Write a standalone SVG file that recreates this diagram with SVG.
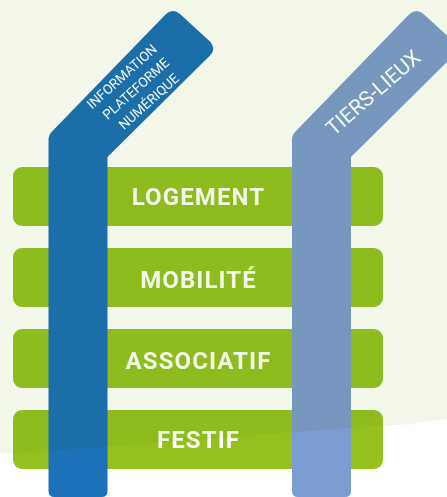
<svg xmlns="http://www.w3.org/2000/svg" width="447" height="497" viewBox="0 0 447 497">
<style>
.bar{fill:#95c11f}
.lab{font:700 24px Roboto,"Liberation Sans",sans-serif;fill:#fff;text-anchor:middle;letter-spacing:1.100px}
.small{font:400 13.500px Roboto,"Liberation Sans",sans-serif;fill:#fff;text-anchor:middle}
.big{font:400 21px Roboto,"Liberation Sans",sans-serif;fill:#fff;text-anchor:middle}
</style>
<defs>
<path id="arm" d="M48.500 140Q48.500 135 52 131.500L166 14Q173 8 180 14L210.500 42Q216 49 210.500 55L107.500 157V491Q107.500 497 101.500 497H54.500Q48.500 497 48.500 491Z"/>
</defs>
<rect width="447" height="497" fill="#fff"/>
<g id="node-logement"><rect class="bar" x="13" y="167" width="370" height="59" rx="9"/><text class="lab" x="198.500" y="205">LOGEMENT</text></g>
<g id="node-mobilite"><rect class="bar" x="13" y="248" width="370" height="59" rx="9"/><text class="lab" x="198.500" y="288">MOBILITÉ</text></g>
<g id="node-associatif"><rect class="bar" x="13" y="329" width="370" height="59" rx="9"/><text class="lab" x="198.500" y="369">ASSOCIATIF</text></g>
<g id="node-festif"><rect class="bar" x="13" y="410" width="370" height="59" rx="9"/><text class="lab" x="198.500" y="448">FESTIF</text></g>
<g id="node-information">
<use href="#arm" fill="#1d71b8"/>
<text class="small" transform="translate(125 80) rotate(-42)">INFORMATION</text>
<text class="small" transform="translate(139 92) rotate(-42)">PLATEFORME</text>
<text class="small" transform="translate(152 105) rotate(-42)">NUMÉRIQUE</text>
</g>
<g id="node-tiers-lieux">
<use href="#arm" x="243.500" fill="#7c9dd1"/>
<text class="big" transform="translate(378 98) rotate(-41)">TIERS-LIEUX</text>
</g>
<path id="background" d="M0 0H447V419L410 424L292 432Q180 442 0 454Z" fill="#f3f7e9" style="mix-blend-mode:multiply"/>
</svg>
